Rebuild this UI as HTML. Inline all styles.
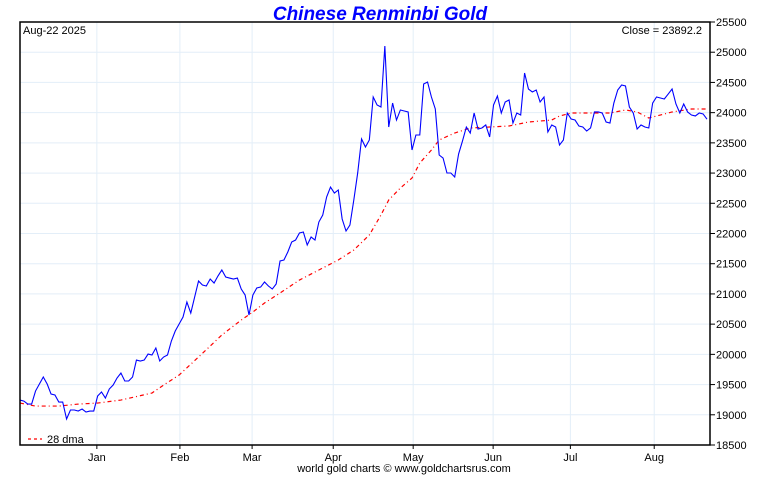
<!DOCTYPE html>
<html><head><meta charset="utf-8"><style>
html,body{margin:0;padding:0;background:#fff;}
svg text{font-family:"Liberation Sans",sans-serif;}
</style></head><body>
<svg id="chart" width="760" height="475" viewBox="0 0 760 475" xmlns="http://www.w3.org/2000/svg">
<text x="380" y="20" text-anchor="middle" font-size="19" font-weight="bold" font-style="italic" fill="#0000ff">Chinese Renminbi Gold</text>
<g id="grid"></g>
<g id="series"></g>
<g id="axes"></g>
<text x="23" y="34" font-size="11" fill="#000">Aug-22  2025</text>
<text x="702" y="34" font-size="11" text-anchor="end" fill="#000">Close = 23892.2</text>
<g>
<line x1="28" y1="439" x2="42" y2="439" stroke="#ff0000" stroke-dasharray="3,3" stroke-width="1.2"></line>
<text x="47" y="443" font-size="11" fill="#000">28 dma</text>
</g>
<text x="404" y="472" text-anchor="middle" font-size="11" fill="#000">world gold charts © www.goldchartsrus.com</text>
</svg>
<script>
const prices = [19244,19227,19177,19177,19393,19509,19625,19509,19343,19327,
19211,19211,18930,19079,19079,19062,19095,19045,19062,19062,
19310,19377,19277,19426,19492,19608,19691,19559,19559,19625,
19906,19890,19906,20005,19989,20105,19890,19956,19989,20221,
20386,20502,20618,20866,20684,20949,21214,21147,21131,21247,
21180,21296,21396,21280,21263,21247,21263,21081,20982,20651,
20982,21098,21114,21197,21131,21081,21164,21545,21561,21694,
21859,21892,22008,22025,21810,21942,21892,22190,22306,22604,
22769,22670,22720,22240,22041,22140,22554,23001,23564,23431,
23547,24259,24126,24093,25103,23762,24159,23878,24044,24027,
24011,23382,23630,23630,24474,24507,24259,24060,23299,23249,
23001,23001,22935,23315,23530,23762,23663,23994,23729,23746,
23796,23597,24126,24275,23994,24176,24209,23828,23994,23961,
24656,24391,24342,24375,24176,24259,23680,23796,23762,23464,
23547,23994,23895,23878,23779,23762,23696,23746,24011,24011,
23994,23845,23828,24159,24375,24457,24441,24093,23994,23729,
23796,23762,23746,24159,24259,24242,24226,24308,24391,24143,
23994,24143,24011,23961,23945,23994,23978,23892];
const maIdx = [0,4,10,15,20,26,34,37,41,46,52,57,60,63,67,72,77,82,86,90,93,95,98,101,103,106,108,112,116,121,126,131,137,139,142,147,152,156,159,162,168,173,177];
const maVals = [19194,19144,19144,19177,19194,19244,19360,19492,19658,19956,20320,20568,20701,20850,21015,21230,21396,21561,21727,21975,22306,22554,22753,22918,23166,23382,23547,23663,23746,23762,23779,23845,23878,23944,23994,23994,23994,24044,24011,23911,24011,24060,24060];
const monthLabels = ["Jan","Feb","Mar","Apr","May","Jun","Jul","Aug"];
const monthIdx = [19.8,41.2,59.8,80.7,101.3,121.9,141.8,163.4];
const yTicks = [18500,19000,19500,20000,20500,21000,21500,22000,22500,23000,23500,24000,24500,25000,25500];

const L=20,R=710,T=22,B=445,yMin=18500,yMax=25500;
const X0=20,X1=707;
const N=prices.length;
const xs=i=>X0+i*(X1-X0)/(N-1);
const ys=v=>B-(v-yMin)/(yMax-yMin)*(B-T);
const NS="http://www.w3.org/2000/svg";
function mk(tag,attrs,parent){const e=document.createElementNS(NS,tag);for(const k in attrs)e.setAttribute(k,attrs[k]);parent.appendChild(e);return e;}
const grid=document.getElementById('grid'),series=document.getElementById('series'),axes=document.getElementById('axes');

yTicks.forEach(v=>{
  const y=ys(v);
  const g=mk('line',{x1:L,x2:R,y1:y,y2:y,stroke:'#e3eef8','stroke-width':1},grid);
  
  
  const t=mk('line',{x1:R,x2:R+5,y1:y,y2:y,stroke:'#000','stroke-width':1},axes);
  
  
  const tx=mk('text',{x:R+6,y:y+4,'font-size':11,fill:'#000'},axes);
  tx.textContent=v;
  
  
});
monthIdx.forEach((m,i)=>{
  const x=xs(m);
  const g=mk('line',{x1:x,x2:x,y1:T,y2:B,stroke:'#e3eef8','stroke-width':1},grid);
  
  
  const t=mk('line',{x1:x,x2:x,y1:B,y2:B+4,stroke:'#000','stroke-width':1},axes);
  
  
  const tx=mk('text',{x:x,y:B+16,'font-size':11,'text-anchor':'middle',fill:'#000'},axes);
  tx.textContent=monthLabels[i];
  
  
});
const frame=mk('rect',{x:L,y:T,width:R-L,height:B-T,fill:'none',stroke:'#000','stroke-width':1.5},axes);



const ma=mk('polyline',{points:maIdx.map((m,i)=>xs(m)+','+ys(maVals[i])).join(' '),fill:'none',stroke:'#ff0000','stroke-width':1.2,'stroke-dasharray':'4,3,1,3'},series);


const pl=mk('polyline',{points:prices.map((v,i)=>xs(i)+','+ys(v)).join(' '),fill:'none',stroke:'#0000ff','stroke-width':1.1},series);


</script>
</body></html>
